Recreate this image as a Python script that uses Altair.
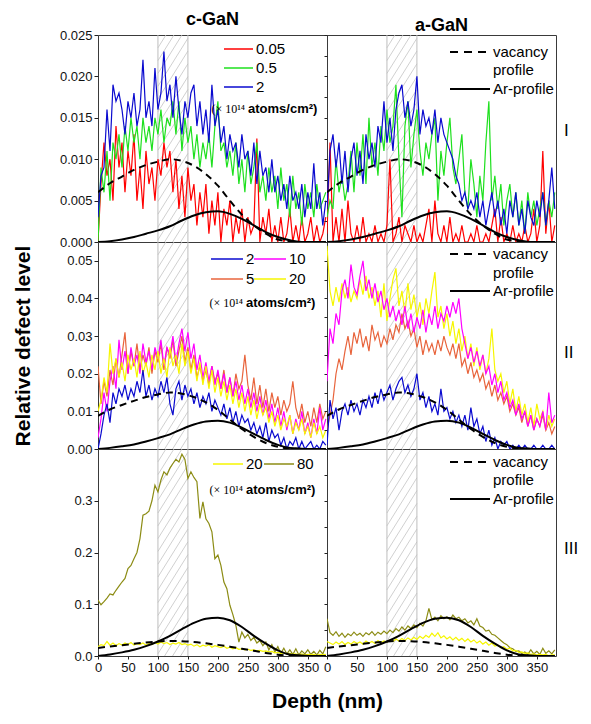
import altair as alt
import pandas as pd

FONT = "Liberation Sans"
W, H = 229, 207
XMAX = 382

RED, GREEN, BLUE = "#FF0000", "#1EE01E", "#0A0ACF"
MAGENTA, ORANGE, YELLOW, OLIVE = "#FF00FF", "#E8643C", "#F6F600", "#8C8C14"

DEPTH = list(range(0, 381, 5))  # 0 ... 380 nm
PROF_X = [0, 20, 40, 60, 80, 100, 120, 140, 160, 180, 200, 220, 240, 260, 280, 300, 320, 340, 360, 380]

# ---------------- SRIM profiles ----------------
vac_I = [0.0060, 0.0071, 0.0079, 0.0087, 0.0093, 0.0097, 0.0100, 0.0098, 0.0092, 0.0082,
         0.0068, 0.0050, 0.0033, 0.0020, 0.0010, 0.0003, 0.0001, 0.0, 0.0, 0.0]
ar_I = [0.0000, 0.0001, 0.0003, 0.0006, 0.0010, 0.0014, 0.0019, 0.0026, 0.0032, 0.0036,
        0.0037, 0.0034, 0.0028, 0.0020, 0.0012, 0.0006, 0.0002, 0.0, 0.0, 0.0]
vac_II = [0.0088, 0.0105, 0.0117, 0.0128, 0.0138, 0.0145, 0.0150, 0.0147, 0.0138, 0.0124,
          0.0104, 0.0078, 0.0053, 0.0032, 0.0016, 0.0006, 0.0001, 0.0, 0.0, 0.0]
ar_II = [0.0000, 0.0003, 0.0007, 0.0012, 0.0020, 0.0029, 0.0039, 0.0053, 0.0065, 0.0073,
         0.0075, 0.0070, 0.0057, 0.0040, 0.0024, 0.0011, 0.0003, 0.0001, 0.0, 0.0]
vac_III = [0.0155, 0.0185, 0.0210, 0.0235, 0.0260, 0.0280, 0.0290, 0.0285, 0.0270, 0.0245,
           0.0215, 0.0180, 0.0140, 0.0100, 0.0060, 0.0025, 0.0005, 0.0, 0.0, 0.0]
ar_III = [0.000, 0.003, 0.007, 0.012, 0.019, 0.028, 0.039, 0.052, 0.064, 0.072,
          0.074, 0.069, 0.056, 0.039, 0.024, 0.011, 0.003, 0.001, 0.0, 0.0]

# ---------------- Row I (0.05, 0.5, 2 x1e14) ----------------
red_Ic = [0.000, 0.007, 0.012, 0.008, 0.010, 0.005, 0.014, 0.009, 0.012, 0.006,
          0.011, 0.008, 0.013, 0.005, 0.009, 0.004, 0.011, 0.007, 0.009, 0.005,
          0.010, 0.008, 0.012, 0.009, 0.011, 0.006, 0.010, 0.004, 0.008, 0.003,
          0.009, 0.005, 0.007, 0.002, 0.006, 0.003, 0.007, 0.001, 0.005, 0.002,
          0.006, 0.000, 0.004, 0.002, 0.005, 0.000, 0.003, 0.001, 0.004, 0.000,
          0.003, 0.001, 0.002, 0.0125, 0.000, 0.003, 0.001, 0.004, 0.000, 0.002,
          0.000, 0.003, 0.000, 0.001, 0.004, 0.000, 0.002, 0.000, 0.003, 0.000,
          0.001, 0.003, 0.000, 0.002, 0.000, 0.001, 0.003]
green_Ic = [0.000, 0.009, 0.006, 0.011, 0.005, 0.012, 0.010, 0.013, 0.009, 0.014,
            0.011, 0.015, 0.012, 0.014, 0.010, 0.015, 0.012, 0.014, 0.011, 0.015,
            0.013, 0.016, 0.012, 0.015, 0.014, 0.017, 0.013, 0.017, 0.011, 0.015,
            0.012, 0.014, 0.010, 0.013, 0.009, 0.012, 0.010, 0.013, 0.009, 0.014,
            0.017, 0.011, 0.012, 0.009, 0.011, 0.008, 0.012, 0.007, 0.010, 0.006,
            0.011, 0.007, 0.009, 0.012, 0.006, 0.008, 0.005, 0.009, 0.006, 0.008,
            0.004, 0.009, 0.005, 0.007, 0.003, 0.008, 0.004, 0.006, 0.002, 0.007,
            0.004, 0.006, 0.003, 0.007, 0.004, 0.005, 0.006]
blue_Ic = [0.003, 0.008, 0.009, 0.016, 0.011, 0.019, 0.017, 0.018, 0.016, 0.013,
           0.017, 0.015, 0.018, 0.014, 0.016, 0.022, 0.015, 0.017, 0.014, 0.021,
           0.016, 0.018, 0.023, 0.017, 0.019, 0.015, 0.020, 0.016, 0.013, 0.017,
           0.015, 0.018, 0.019, 0.014, 0.017, 0.013, 0.016, 0.012, 0.019, 0.014,
           0.016, 0.012, 0.014, 0.010, 0.013, 0.011, 0.012, 0.009, 0.013, 0.010,
           0.011, 0.008, 0.012, 0.007, 0.011, 0.008, 0.009, 0.006, 0.010, 0.006,
           0.008, 0.005, 0.007, 0.004, 0.008, 0.005, 0.006, 0.004, 0.007, 0.003,
           0.006, 0.004, 0.0095, 0.004, 0.006, 0.002, 0.005]
red_Ia = [0.001, 0.012, 0.000, 0.003, 0.000, 0.004, 0.000, 0.005, 0.001, 0.000,
          0.002, 0.000, 0.003, 0.000, 0.001, 0.000, 0.002, 0.000, 0.001, 0.000,
          0.002, 0.010, 0.000, 0.001, 0.003, 0.000, 0.002, 0.001, 0.000, 0.002,
          0.000, 0.001, 0.000, 0.002, 0.004, 0.000, 0.005, 0.001, 0.000, 0.002,
          0.000, 0.003, 0.000, 0.001, 0.000, 0.002, 0.000, 0.000, 0.001, 0.000,
          0.002, 0.000, 0.000, 0.001, 0.000, 0.002, 0.004, 0.000, 0.003, 0.000,
          0.001, 0.000, 0.002, 0.000, 0.001, 0.000, 0.002, 0.000, 0.001, 0.004,
          0.000, 0.002, 0.011, 0.001, 0.005, 0.000, 0.002]
green_Ia = [0.003, 0.005, 0.004, 0.010, 0.006, 0.008, 0.005, 0.007, 0.011, 0.006,
            0.012, 0.008, 0.013, 0.007, 0.015, 0.009, 0.012, 0.008, 0.014, 0.011,
            0.016, 0.012, 0.014, 0.019, 0.010, 0.003, 0.014, 0.017, 0.009, 0.013,
            0.016, 0.011, 0.008, 0.012, 0.010, 0.013, 0.015, 0.005, 0.011, 0.008,
            0.012, 0.015, 0.009, 0.007, 0.010, 0.013, 0.006, 0.004, 0.010, 0.007,
            0.003, 0.008, 0.005, 0.012, 0.017, 0.005, 0.008, 0.004, 0.007, 0.002,
            0.005, 0.007, 0.003, 0.006, 0.002, 0.005, 0.001, 0.006, 0.003, 0.005,
            0.002, 0.004, 0.006, 0.002, 0.005, 0.003, 0.006]
blue_Ia = [0.004, 0.011, 0.013, 0.009, 0.012, 0.007, 0.011, 0.006, 0.010, 0.012,
           0.008, 0.011, 0.007, 0.013, 0.010, 0.012, 0.009, 0.014, 0.012, 0.017,
           0.012, 0.015, 0.011, 0.016, 0.018, 0.019, 0.015, 0.017, 0.014, 0.016,
           0.020, 0.013, 0.016, 0.014, 0.015, 0.013, 0.016, 0.012, 0.015, 0.013,
           0.012, 0.011, 0.010, 0.008, 0.007, 0.005, 0.006, 0.004, 0.005, 0.004,
           0.006, 0.003, 0.005, 0.002, 0.004, 0.006, 0.003, 0.005, 0.002, 0.004,
           0.001, 0.005, 0.003, 0.006, 0.002, 0.004, 0.001, 0.005, 0.003, 0.002,
           0.005, 0.003, 0.006, 0.002, 0.005, 0.009, 0.004]

# ---------------- Row II (2, 5, 10, 20 x1e14) ----------------
blue_IIc = [0.000, 0.004, 0.009, 0.012, 0.007, 0.015, 0.012, 0.016, 0.014, 0.017,
            0.013, 0.016, 0.014, 0.018, 0.015, 0.021, 0.014, 0.017, 0.013, 0.016,
            0.014, 0.018, 0.015, 0.019, 0.012, 0.009, 0.016, 0.018, 0.013, 0.017,
            0.014, 0.016, 0.012, 0.015, 0.011, 0.014, 0.012, 0.015, 0.010, 0.013,
            0.011, 0.009, 0.012, 0.008, 0.011, 0.007, 0.010, 0.006, 0.009, 0.007,
            0.008, 0.005, 0.007, 0.004, 0.006, 0.003, 0.007, 0.002, 0.005, 0.003,
            0.004, 0.001, 0.003, 0.000, 0.002, 0.001, 0.003, 0.000, 0.002, 0.000,
            0.001, 0.002, 0.000, 0.001, 0.000, 0.002, 0.001]
magenta_IIc = [0.003, 0.008, 0.015, 0.010, 0.018, 0.022, 0.016, 0.029, 0.021, 0.026,
               0.020, 0.027, 0.022, 0.025, 0.020, 0.028, 0.023, 0.026, 0.021, 0.027,
               0.024, 0.029, 0.022, 0.027, 0.025, 0.030, 0.023, 0.028, 0.032, 0.026,
               0.031, 0.024, 0.028, 0.021, 0.025, 0.019, 0.023, 0.018, 0.022, 0.017,
               0.021, 0.016, 0.020, 0.015, 0.019, 0.014, 0.018, 0.013, 0.017, 0.012,
               0.016, 0.011, 0.015, 0.010, 0.014, 0.009, 0.013, 0.008, 0.012, 0.007,
               0.011, 0.006, 0.010, 0.005, 0.009, 0.004, 0.008, 0.005, 0.010, 0.004,
               0.007, 0.003, 0.008, 0.004, 0.011, 0.005, 0.008]
orange_IIc = [0.022, 0.012, 0.018, 0.014, 0.021, 0.017, 0.024, 0.019, 0.025, 0.031,
              0.020, 0.026, 0.022, 0.028, 0.021, 0.025, 0.022, 0.027, 0.020, 0.026,
              0.023, 0.028, 0.021, 0.027, 0.024, 0.029, 0.022, 0.026, 0.030, 0.023,
              0.027, 0.021, 0.025, 0.019, 0.022, 0.018, 0.021, 0.017, 0.022, 0.018,
              0.020, 0.016, 0.021, 0.015, 0.019, 0.014, 0.020, 0.016, 0.018, 0.025,
              0.017, 0.013, 0.019, 0.012, 0.017, 0.011, 0.016, 0.010, 0.015, 0.011,
              0.014, 0.009, 0.013, 0.010, 0.012, 0.018, 0.011, 0.008, 0.012, 0.007,
              0.010, 0.006, 0.011, 0.007, 0.012, 0.008, 0.010]
yellow_IIc = [0.010, 0.013, 0.019, 0.015, 0.028, 0.020, 0.024, 0.019, 0.023, 0.018,
              0.025, 0.021, 0.024, 0.019, 0.026, 0.020, 0.023, 0.019, 0.025, 0.021,
              0.026, 0.020, 0.024, 0.019, 0.027, 0.022, 0.025, 0.020, 0.028, 0.022,
              0.026, 0.020, 0.024, 0.018, 0.023, 0.017, 0.022, 0.016, 0.021, 0.015,
              0.019, 0.014, 0.018, 0.013, 0.017, 0.012, 0.016, 0.011, 0.015, 0.010,
              0.014, 0.009, 0.013, 0.008, 0.012, 0.009, 0.011, 0.007, 0.010, 0.006,
              0.009, 0.005, 0.008, 0.006, 0.009, 0.004, 0.007, 0.005, 0.008, 0.004,
              0.006, 0.003, 0.007, 0.004, 0.006, 0.003, 0.005]
yellow_IIa = [0.054, 0.042, 0.038, 0.043, 0.039, 0.044, 0.040, 0.043, 0.039, 0.042,
              0.040, 0.045, 0.041, 0.046, 0.040, 0.043, 0.038, 0.042, 0.035, 0.044,
              0.034, 0.040, 0.045, 0.048, 0.038, 0.042, 0.036, 0.044, 0.037, 0.041,
              0.035, 0.039, 0.033, 0.040, 0.036, 0.042, 0.047, 0.035, 0.038, 0.032,
              0.036, 0.030, 0.034, 0.028, 0.032, 0.026, 0.030, 0.024, 0.028, 0.022,
              0.027, 0.021, 0.025, 0.020, 0.024, 0.032, 0.021, 0.018, 0.020, 0.015,
              0.018, 0.012, 0.016, 0.010, 0.014, 0.009, 0.012, 0.007, 0.011, 0.006,
              0.012, 0.008, 0.010, 0.005, 0.009, 0.006, 0.008]
magenta_IIa = [0.018, 0.032, 0.028, 0.036, 0.033, 0.042, 0.045, 0.040, 0.049, 0.043,
               0.041, 0.046, 0.050, 0.042, 0.045, 0.040, 0.044, 0.039, 0.042, 0.037,
               0.040, 0.035, 0.038, 0.034, 0.037, 0.033, 0.038, 0.032, 0.036, 0.031,
               0.035, 0.032, 0.037, 0.031, 0.036, 0.033, 0.038, 0.032, 0.036, 0.034,
               0.038, 0.035, 0.039, 0.036, 0.040, 0.032, 0.028, 0.024, 0.027, 0.023,
               0.026, 0.022, 0.025, 0.020, 0.022, 0.017, 0.020, 0.015, 0.018, 0.013,
               0.015, 0.011, 0.013, 0.009, 0.012, 0.008, 0.010, 0.006, 0.009, 0.005,
               0.008, 0.006, 0.010, 0.005, 0.015, 0.007, 0.009]
orange_IIa = [0.005, 0.009, 0.013, 0.020, 0.024, 0.021, 0.026, 0.030, 0.025, 0.031,
              0.028, 0.032, 0.027, 0.030, 0.026, 0.033, 0.029, 0.031, 0.027, 0.030,
              0.028, 0.032, 0.029, 0.033, 0.031, 0.036, 0.032, 0.034, 0.030, 0.032,
              0.027, 0.030, 0.025, 0.029, 0.026, 0.028, 0.025, 0.029, 0.026, 0.030,
              0.027, 0.025, 0.028, 0.024, 0.028, 0.022, 0.024, 0.020, 0.023, 0.019,
              0.021, 0.018, 0.020, 0.016, 0.018, 0.014, 0.017, 0.013, 0.015, 0.012,
              0.014, 0.010, 0.012, 0.009, 0.011, 0.007, 0.010, 0.006, 0.009, 0.005,
              0.008, 0.006, 0.009, 0.005, 0.007, 0.004, 0.006]
blue_IIa = [0.001, 0.013, 0.008, 0.011, 0.005, 0.010, 0.012, 0.009, 0.013, 0.010,
            0.012, 0.009, 0.013, 0.011, 0.014, 0.011, 0.015, 0.012, 0.016, 0.013,
            0.015, 0.017, 0.013, 0.016, 0.018, 0.019, 0.015, 0.017, 0.014, 0.016,
            0.020, 0.013, 0.015, 0.011, 0.014, 0.010, 0.012, 0.009, 0.016, 0.010,
            0.011, 0.008, 0.010, 0.007, 0.009, 0.006, 0.009, 0.005, 0.011, 0.006,
            0.008, 0.004, 0.006, 0.002, 0.005, 0.001, 0.003, 0.000, 0.002, 0.001,
            0.002, 0.000, 0.001, 0.000, 0.001, 0.000, 0.001, 0.000, 0.000, 0.001,
            0.000, 0.000, 0.001, 0.000, 0.000, 0.001, 0.000]

# ---------------- Row III (20, 80 x1e14) ----------------
olive_IIIc = [0.108, 0.099, 0.105, 0.112, 0.120, 0.118, 0.127, 0.135, 0.143, 0.150,
              0.169, 0.175, 0.188, 0.200, 0.227, 0.272, 0.275, 0.280, 0.300, 0.330,
              0.317, 0.340, 0.356, 0.350, 0.363, 0.372, 0.380, 0.375, 0.390, 0.380,
              0.343, 0.356, 0.345, 0.337, 0.266, 0.298, 0.265, 0.256, 0.240, 0.188,
              0.195, 0.175, 0.143, 0.130, 0.098, 0.080, 0.059, 0.027, 0.046, 0.035,
              0.042, 0.030, 0.036, 0.025, 0.030, 0.020, 0.027, 0.012, 0.022, 0.008,
              0.018, 0.005, 0.015, 0.004, 0.012, 0.003, 0.014, 0.002, 0.010, 0.004,
              0.012, 0.003, 0.009, 0.002, 0.011, 0.004, 0.018]
yellow_IIIc = [0.018, 0.022, 0.020, 0.028, 0.021, 0.025, 0.020, 0.024, 0.021, 0.025,
               0.022, 0.026, 0.021, 0.024, 0.022, 0.025, 0.021, 0.024, 0.022, 0.026,
               0.023, 0.027, 0.024, 0.026, 0.022, 0.025, 0.023, 0.026, 0.022, 0.024,
               0.021, 0.023, 0.019, 0.022, 0.018, 0.021, 0.019, 0.022, 0.017, 0.020,
               0.018, 0.016, 0.019, 0.015, 0.017, 0.014, 0.016, 0.013, 0.014, 0.012,
               0.013, 0.011, 0.012, 0.010, 0.011, 0.009, 0.010, 0.008, 0.009, 0.006,
               0.007, 0.005, 0.006, 0.004, 0.005, 0.003, 0.004, 0.002, 0.004, 0.002,
               0.003, 0.002, 0.003, 0.001, 0.003, 0.002, 0.003]
olive_IIIa = [0.072, 0.045, 0.040, 0.047, 0.038, 0.044, 0.036, 0.043, 0.039, 0.046,
              0.040, 0.044, 0.038, 0.045, 0.041, 0.047, 0.040, 0.046, 0.042, 0.048,
              0.043, 0.050, 0.045, 0.053, 0.048, 0.056, 0.050, 0.058, 0.053, 0.060,
              0.055, 0.063, 0.058, 0.068, 0.092, 0.070, 0.075, 0.068, 0.078, 0.072,
              0.076, 0.070, 0.079, 0.072, 0.075, 0.068, 0.072, 0.064, 0.068, 0.060,
              0.072, 0.058, 0.055, 0.048, 0.050, 0.042, 0.040, 0.035, 0.030, 0.025,
              0.022, 0.016, 0.014, 0.009, 0.010, 0.005, 0.008, 0.003, 0.012, 0.004,
              0.009, 0.003, 0.015, 0.005, 0.010, 0.004, 0.012]
yellow_IIIa = [0.028, 0.025, 0.022, 0.027, 0.023, 0.028, 0.022, 0.026, 0.023, 0.028,
               0.024, 0.027, 0.023, 0.029, 0.025, 0.028, 0.024, 0.030, 0.026, 0.029,
               0.027, 0.031, 0.028, 0.033, 0.029, 0.034, 0.030, 0.035, 0.031, 0.036,
               0.032, 0.038, 0.034, 0.040, 0.036, 0.044, 0.038, 0.045, 0.035, 0.039,
               0.033, 0.037, 0.031, 0.036, 0.030, 0.034, 0.028, 0.033, 0.027, 0.031,
               0.025, 0.029, 0.023, 0.027, 0.021, 0.025, 0.019, 0.021, 0.016, 0.018,
               0.013, 0.015, 0.010, 0.011, 0.007, 0.008, 0.005, 0.006, 0.003, 0.004,
               0.002, 0.003, 0.002, 0.003, 0.001, 0.002, 0.002]

# ---------------- axes ----------------
X_TICKS = [0, 50, 100, 150, 200, 250, 300, 350]
ROWS = [
    dict(ymax=0.025, major=[0, 0.005, 0.010, 0.015, 0.020, 0.025], fmt=".3f",
         minor=[0, 0.0025, 0.005, 0.0075, 0.010, 0.0125, 0.015, 0.0175, 0.020, 0.0225, 0.025],
         vac=vac_I, ar=ar_I, roman="I", roman_y=96),
    dict(ymax=0.055, major=[0, 0.01, 0.02, 0.03, 0.04, 0.05], fmt=".2f",
         minor=[0, 0.005, 0.01, 0.015, 0.02, 0.025, 0.03, 0.035, 0.04, 0.045, 0.05, 0.055],
         vac=vac_II, ar=ar_II, roman="II", roman_y=111),
    dict(ymax=0.4, major=[0, 0.1, 0.2, 0.3], fmt=".1f",
         minor=[0, 0.05, 0.1, 0.15, 0.2, 0.25, 0.3, 0.35, 0.4],
         vac=vac_III, ar=ar_III, roman="III", roman_y=100),
]

SERIES = {
    (0, 0): [(RED, red_Ic), (GREEN, green_Ic), (BLUE, blue_Ic)],
    (0, 1): [(RED, red_Ia), (GREEN, green_Ia), (BLUE, blue_Ia)],
    (1, 0): [(ORANGE, orange_IIc), (MAGENTA, magenta_IIc), (YELLOW, yellow_IIc), (BLUE, blue_IIc)],
    (1, 1): [(ORANGE, orange_IIa), (YELLOW, yellow_IIa), (MAGENTA, magenta_IIa), (BLUE, blue_IIa)],
    (2, 0): [(OLIVE, olive_IIIc), (YELLOW, yellow_IIIc)],
    (2, 1): [(OLIVE, olive_IIIa), (YELLOW, yellow_IIIa)],
}

# legend layout (pixels inside each panel): swatch x1, x2, y, colour, label, label x
LEGENDS = {
    0: dict(items=[(126, 155, 14, RED, "0.05", 158), (126, 155, 33, GREEN, "0.5", 158),
                   (126, 155, 52, BLUE, "2", 158)], unit=(147, 150, 74)),
    1: dict(items=[(113, 145, 17, BLUE, "2", 148), (156, 188, 17, MAGENTA, "10", 191),
                   (113, 145, 37, ORANGE, "5", 148), (156, 188, 37, YELLOW, "20", 191)],
            unit=(145, 148, 61)),
    2: dict(items=[(115, 145, 15, YELLOW, "20", 148), (166, 196, 15, OLIVE, "80", 199)],
            unit=(145, 148, 41)),
}
PROF_LEG_Y = {0: (17, 35, 54), 1: (12, 31, 49), 2: (13, 31, 50)}

DUMMY = pd.DataFrame({"k": [0]})


def hatch_df(ymax):
    rows = []
    slope = 1.6
    x_lo, x_hi = 100 * W / XMAX, 150 * W / XMAX
    c = x_lo - H / slope
    while c < x_hi:
        y0 = max(0.0, (x_lo - c) * slope)
        y1 = min(H, (x_hi - c) * slope)
        if y1 > y0:
            rows.append({"hx": (c + y0 / slope) * XMAX / W, "hx2": (c + y1 / slope) * XMAX / W,
                         "hy": y0 / H * ymax, "hy2": y1 / H * ymax})
        c += 8
    return pd.DataFrame(rows)


def text(t, x, y, size=14, align="left", weight="normal", font=FONT):
    return alt.Chart(DUMMY).mark_text(text=t, font=font, fontSize=size, align=align,
                                      baseline="middle", fontWeight=weight, color="#000").encode(
        x=alt.value(x), y=alt.value(y))


def rule(x1, x2, y, color, dash=None, width=1.5):
    kw = dict(color=color, strokeWidth=width)
    if dash:
        kw["strokeDash"] = dash
    return alt.Chart(DUMMY).mark_rule(**kw).encode(x=alt.value(x1), x2=alt.value(x2), y=alt.value(y))


def panel(r, c):
    R = ROWS[r]
    xs = alt.Scale(domain=[0, XMAX], nice=False, zero=False)
    ys = alt.Scale(domain=[0, R["ymax"]], nice=False, zero=False)
    if r == 2:
        xaxis = alt.Axis(values=X_TICKS, format="d", labelFontSize=13, tickSize=3, labelPadding=2,
                         domain=False, grid=False, labelFlush=False,
                         title="Depth (nm)" if c == 0 else None, titleFontSize=21,
                         titleFontWeight="bold", titleX=W, titlePadding=16)
    else:
        xaxis = None
    if c == 0:
        yaxis = alt.Axis(values=R["major"], format=R["fmt"], labelFontSize=13, tickSize=4,
                         labelPadding=2, domain=False, grid=False,
                         title="Relative defect level" if r == 1 else None,
                         titleFontSize=21, titleFontWeight="bold", titlePadding=33)
    else:
        yaxis = alt.Axis(values=R["minor"], labels=False, tickSize=3, domain=False, grid=False,
                         title=None)

    def X(f):
        return alt.X(f, type="quantitative", scale=xs, axis=xaxis)

    def Y(f):
        return alt.Y(f, type="quantitative", scale=ys, axis=yaxis)

    layers = []
    # hatched implantation zone 100-150 nm
    layers.append(alt.Chart(hatch_df(R["ymax"])).mark_rule(color="#C4C4C4", strokeWidth=0.8).encode(
        x=X("hx"), x2="hx2:Q", y=Y("hy"), y2="hy2:Q"))
    layers.append(alt.Chart(pd.DataFrame({"depth": [100, 150], "value": [0, 0]})).mark_rule(
        color="#BDBDBD", strokeWidth=1).encode(x=X("depth")))
    for color, vals in SERIES[(r, c)]:
        df = pd.DataFrame({"depth": DEPTH, "value": vals})
        layers.append(alt.Chart(df).mark_line(color=color, strokeWidth=1.2, clip=True).encode(
            x=X("depth"), y=Y("value")))
    vdf = pd.DataFrame({"depth": PROF_X, "value": R["vac"]})
    adf = pd.DataFrame({"depth": PROF_X, "value": R["ar"]})
    layers.append(alt.Chart(vdf).mark_line(color="#000", strokeWidth=2, strokeDash=[7, 5],
                                           interpolate="monotone", clip=True).encode(
        x=X("depth"), y=Y("value")))
    layers.append(alt.Chart(adf).mark_line(color="#000", strokeWidth=2,
                                           interpolate="monotone", clip=True).encode(
        x=X("depth"), y=Y("value")))

    if c == 0:
        L = LEGENDS[r]
        for x1, x2, y, col, lab, lx in L["items"]:
            layers.append(rule(x1, x2, y, col))
            layers.append(text(lab, lx, y, size=15))
        ux1, ux2, uy = L["unit"]
        layers.append(text("(\u00d7 10\u00b9\u2074", ux1, uy, size=12, align="right",
                           font="Liberation Serif"))
        layers.append(text("atoms/cm\u00b2)", ux2, uy, size=13, weight="bold"))
    else:
        y1, y2, y3 = PROF_LEG_Y[r]
        layers.append(rule(123, 163, y1, "#000", dash=[8, 6], width=2))
        layers.append(text("vacancy", 166, y1, size=15))
        layers.append(text("profile", 166, y2, size=15))
        layers.append(rule(123, 163, y3, "#000", width=2))
        layers.append(text("Ar-profile", 166, y3, size=15))
        layers.append(text(R["roman"], 237, R["roman_y"], size=17))

    props = dict(width=W, height=H)
    if r == 0:
        props["title"] = alt.TitleParams(text="c-GaN" if c == 0 else "a-GaN", fontSize=18,
                                         fontWeight="bold", font=FONT, offset=0, color="#000")
    return alt.layer(*layers).properties(**props)


panels = [panel(r, c) for r in range(3) for c in range(2)]
chart = alt.concat(*panels, columns=2, spacing=0, bounds="flush").properties(
    padding={"left": 12, "top": 10, "right": 2, "bottom": 2}
).configure_view(stroke="#3a3a3a", strokeWidth=1).configure_axis(
    labelFont=FONT, titleFont=FONT, labelColor="#111", tickColor="#222", titleColor="#000"
)

chart.save("out.html", embed_options={"renderer": "svg", "actions": False})
